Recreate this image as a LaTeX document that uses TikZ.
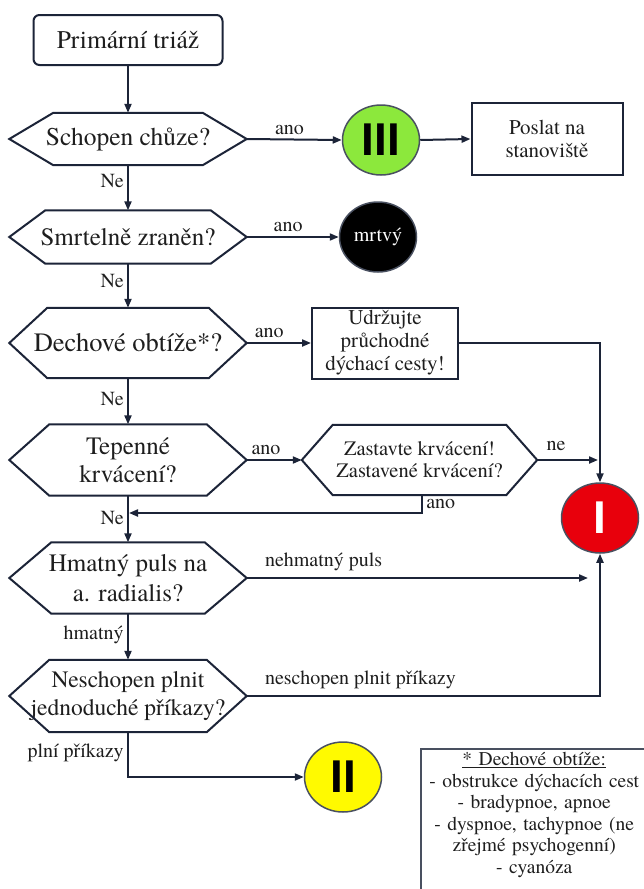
\documentclass[tikz,border=0pt]{standalone}
\usepackage{fontspec}
\setmainfont{texgyretermes-regular.otf}[BoldFont=texgyretermes-bold.otf]
\setsansfont{Liberation Sans}
\usetikzlibrary{arrows.meta,positioning,shapes.geometric}

\definecolor{linecol}{RGB}{28,36,56}
\definecolor{txtcol}{RGB}{30,30,30}
\definecolor{greenIII}{RGB}{140,232,60}
\definecolor{redI}{RGB}{232,0,12}
\definecolor{yellowII}{RGB}{255,250,0}

\tikzset{
  link/.style={draw=linecol, line width=2pt},
  flow/.style={link, -{Triangle[length=9pt,width=7pt]}},
  quest/.style={align=center, inner sep=0pt, minimum width=237, minimum height=70,
    font=\rmfamily\fontsize{25}{28}\selectfont, text=txtcol},
  act/.style={draw=linecol, line width=2pt, align=center, inner sep=0pt,
    font=\rmfamily\fontsize{21}{23}\selectfont, text=txtcol},
  cat/.style={ellipse, draw=linecol!80, line width=1.5pt, minimum width=77, minimum height=70,
    inner sep=0pt, font=\sffamily\bfseries\fontsize{46}{46}\selectfont},
  lbl/.style={font=\rmfamily\fontsize{20}{22}\selectfont, text=txtcol},
}

\begin{document}
\begin{tikzpicture}[x=1pt,y=-1pt]
\path[use as bounding box, fill=white] (0,0) rectangle (643,889);

% left column
\node[act, rounded corners=6, minimum width=189, minimum height=50,
  font=\rmfamily\fontsize{25.5}{28}\selectfont] (start) at (128,40) {Primární triáž};
\node[quest, minimum height=52, font=\rmfamily\fontsize{25.5}{28}\selectfont] (q1) at (128,139) {Schopen chůze?};
\node[quest, minimum height=53] (q2) at (128,237) {Smrtelně zraněn?};
\node[quest, font=\rmfamily\fontsize{26.5}{28}\selectfont] (q3) at (128,343) {Dechové obtíže*?};
\node[quest, minimum height=71] (q4) at (128,460) {Tepenné\\krvácení?};
\node[quest, minimum height=71, font=\rmfamily\fontsize{25}{30}\selectfont] (q6) at (128,578) {Hmatný puls na\\a. radialis?};
\node[quest, minimum height=72, font=\rmfamily\fontsize{23.5}{28}\selectfont] (q7) at (128,696) {Neschopen plnit\\jednoduché příkazy?};

% right side
\node[quest, minimum width=235, font=\rmfamily\fontsize{20.5}{22}\selectfont] (q5) at (419.5,460) {Zastavte krvácení!\\Zastavené krvácení?};
\node[cat, fill=greenIII] (c3) at (381,140) {III};
\node[act, minimum width=151, minimum height=72] (send) at (547,139) {Poslat na\\stanoviště};
\node[cat, fill=black, text=white, font=\rmfamily\fontsize{20}{22}\selectfont] (dead) at (378,237) {mrtvý};
\node[act, minimum width=146, minimum height=71] (keep) at (385,343) {Udržujte\\průchodné\\dýchací cesty!};
\node[cat, fill=redI, text=white] (c1) at (600,518) {I};
\node[cat, fill=yellowII] (c2) at (343,777) {II};

\node[anchor=north west, align=center, text width=226, inner xsep=0, inner ysep=3,
  font=\rmfamily\fontsize{19.5}{21.5}\selectfont, text=txtcol] (note) at (421,749)
  {\underline{* Dechové obtíže:}\\- obstrukce dýchacích cest\\- bradypnoe, apnoe\\- dyspnoe, tachypnoe (ne\\zřejmé psychogenní)\\- cyanóza};
\draw[draw=linecol!80, line width=1.5pt] (note.north west) rectangle ([yshift=-20pt]note.south east);

% hexagons
\foreach \n/\d in {q1/44,q2/36,q3/38,q4/40,q5/31,q6/42,q7/40}
  \draw[link] (\n.west) -- ([xshift=\d]\n.north west) -- ([xshift=-\d]\n.north east)
    -- (\n.east) -- ([xshift=-\d]\n.south east) -- ([xshift=\d]\n.south west) -- cycle;

% connectors
\coordinate (k1) at (keep.east -| c1);
\coordinate (k2) at (q5.east -| c1);
\coordinate (k3) at (q6.east -| c1);
\coordinate (k4) at (q7.east -| c1);
\coordinate (r1) at (422,513);
\coordinate (r2) at (129,513);

\draw[flow] (start.south) -- (q1.north);
\draw[flow] (q1.south) -- node[lbl, left, pos=0.35] {Ne} (q2.north);
\draw[flow] (q2.south) -- node[lbl, left, pos=0.4] {Ne} (q3.north);
\draw[flow] (q3.south) -- node[lbl, left, pos=0.45] {Ne} (q4.north);
\draw[flow] (q4.south) -- node[lbl, left, pos=0.48] {Ne} (q6.north);
\draw[flow] (q6.south) -- node[lbl, left, pos=0.45] {hmatný} (q7.north);

\draw[flow] (q1.east) -- node[lbl, above=0pt, pos=0.45] {ano} (c3.west);
\draw[flow] (c3.east) -- (send.west);
\draw[flow] (q2.east) -- node[lbl, above=1pt, pos=0.45] {ano} (dead.west);
\draw[flow] (q3.east) -- node[lbl, above=1pt, pos=0.35] {ano} (keep.west);
\draw[flow] (q4.east) -- node[lbl, above=1pt, pos=0.35] {ano} (q5.west);

\draw[flow] (keep.east) -- (k1) -- (c1.north);
\draw[flow, shorten >=2pt] (q5.east) -- node[lbl, above=5pt, pos=0.3] {ne} (k2);
\draw[flow] (r1 |- q5.south) -- node[lbl, right] {ano} (r1) -- (r2);
\draw[flow] (q6.east) -- node[lbl, above=3pt, pos=0, anchor=south west, xshift=14pt] {nehmatný puls} ([xshift=-12pt]k3);
\draw[flow] (q7.east) -- node[lbl, above=3pt, pos=0, anchor=south west, xshift=14pt] {neschopen plnit příkazy} (k4) -- (c1.south);
\draw[flow] (q7.south) -- node[lbl, left, pos=0.45] {plní příkazy} (q7.south |- c2) -- (c2.west);
\end{tikzpicture}
\end{document}
